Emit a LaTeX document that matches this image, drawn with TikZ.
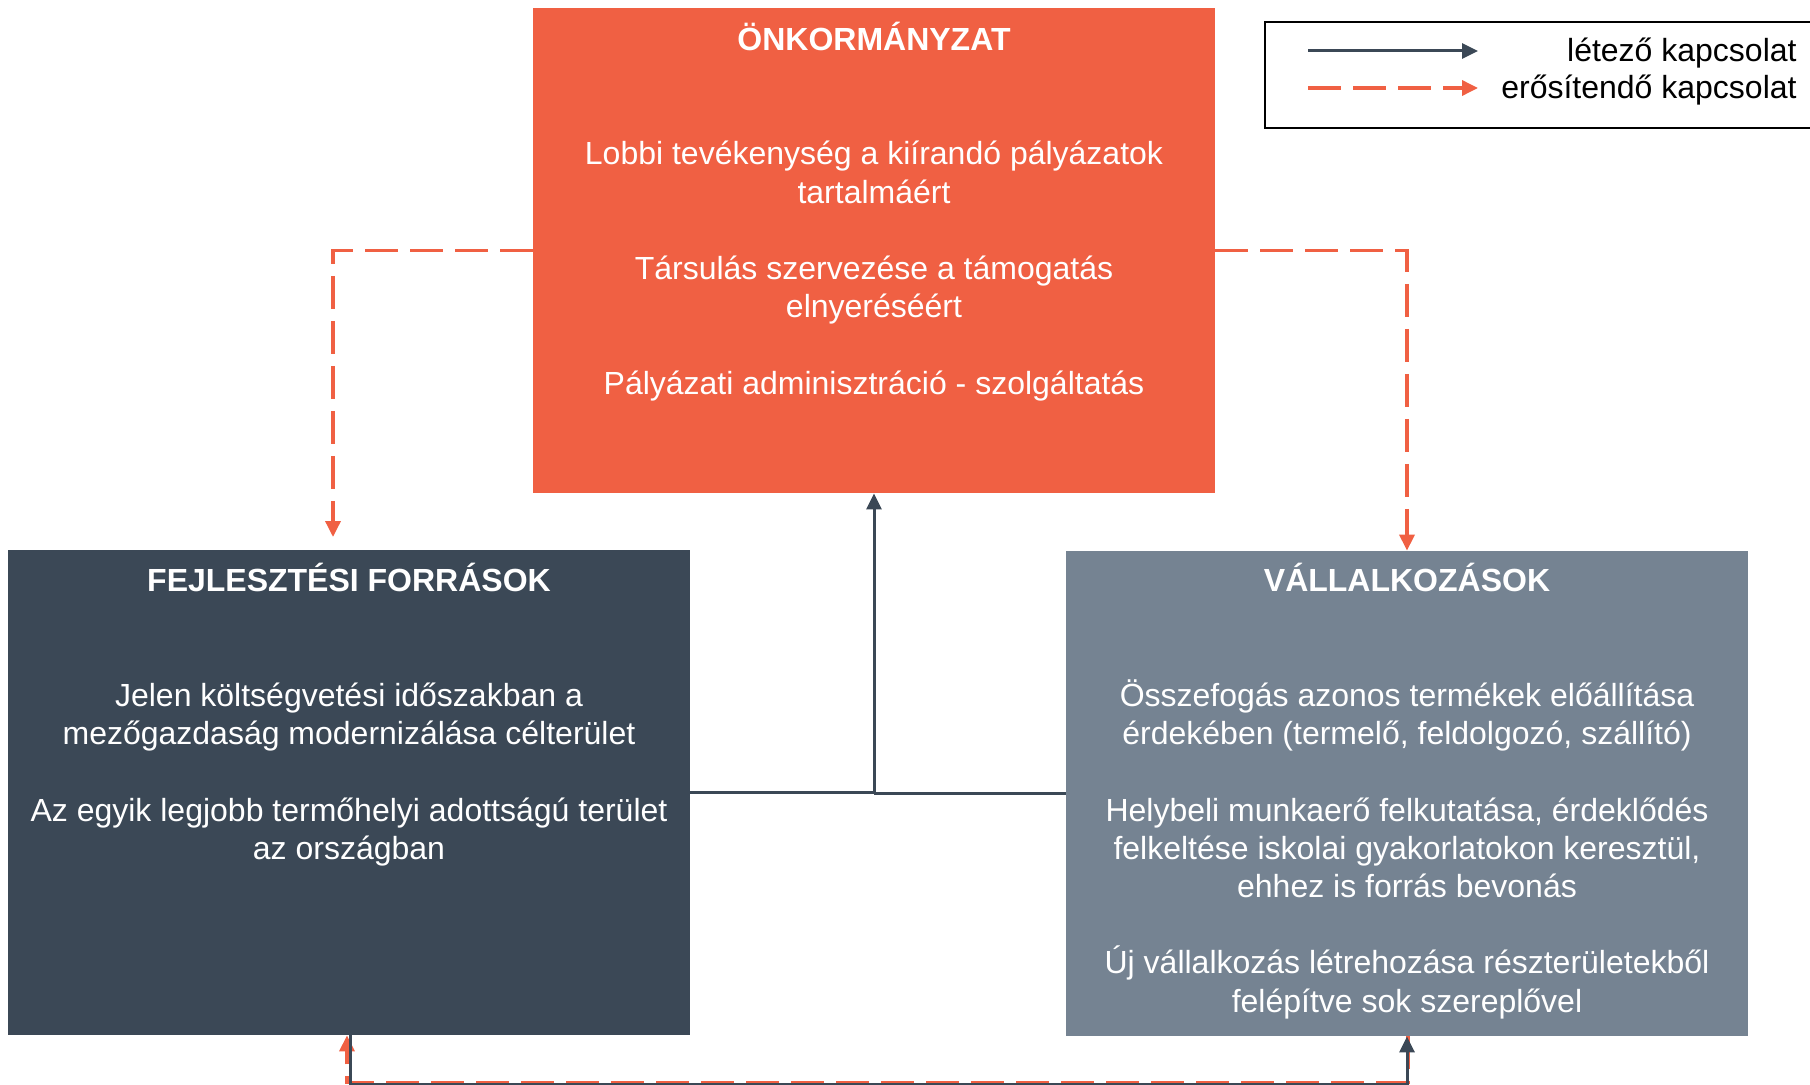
\documentclass[tikz,border=0pt]{standalone}
\usepackage{fontspec}
\setmainfont{Liberation Sans}
\usetikzlibrary{arrows.meta}
\definecolor{onkc}{RGB}{240,96,67}
\definecolor{fejc}{RGB}{59,72,86}
\definecolor{valc}{RGB}{117,131,146}
\begin{document}
\begin{tikzpicture}[x=0.5pt,y=-0.5pt,
  box/.style={minimum width=341pt,minimum height=242.5pt,inner sep=0pt,draw=none},
  txt/.style={anchor=base,text=white,font=\fontsize{16}{19}\selectfont,inner sep=0pt},
  ttl/.style={anchor=base,text=white,font=\fontsize{16}{19}\selectfont\bfseries,inner sep=0pt},
  existing/.style={draw=fejc,line width=1.5pt,-{Triangle[width=7.5pt,length=8pt]}},
  plainline/.style={draw=fejc,line width=1.5pt},
  planned/.style={draw=onkc,line width=1.75pt,dash pattern=on 16.5pt off 6pt,-{Triangle[width=7.5pt,length=8pt]}},
  legtxt/.style={anchor=base east,font=\fontsize{16}{19}\selectfont,inner sep=0pt}
]
\useasboundingbox (0,0) rectangle (1810,1085);

% boxes
\node[box,fill=onkc] (onk) at (874,250.5) {};
\node[box,fill=fejc] (fej) at (349,792.5) {};
\node[box,fill=valc] (val) at (1407,793.5) {};

% top box texts
\node[ttl] (o0) at (874,50.5) {ÖNKORMÁNYZAT};
\node[txt] (o1) at (874,165) {Lobbi tevékenység a kiírandó pályázatok};
\node[txt] (o2) at (874,203.2) {tartalmáért};
\node[txt] (o3) at (874,279.6) {Társulás szervezése a támogatás};
\node[txt] (o4) at (874,317.8) {elnyeréséért};
\node[txt] (o5) at (874,394.2) {Pályázati adminisztráció - szolgáltatás};

% left box texts
\node[ttl] (f0) at (349,591.5) {FEJLESZTÉSI FORRÁSOK};
\node[txt] (f1) at (349,706.5) {Jelen költségvetési időszakban a};
\node[txt] (f2) at (349,744.7) {mezőgazdaság modernizálása célterület};
\node[txt] (f3) at (349,821.1) {Az egyik legjobb termőhelyi adottságú terület};
\node[txt] (f4) at (349,859.3) {az országban};

% right box texts
\node[ttl] (v0) at (1407,591.5) {VÁLLALKOZÁSOK};
\node[txt] (v1) at (1407,706.5) {Összefogás azonos termékek előállítása};
\node[txt] (v2) at (1407,744.7) {érdekében (termelő, feldolgozó, szállító)};
\node[txt] (v3) at (1407,821.1) {Helybeli munkaerő felkutatása, érdeklődés};
\node[txt] (v4) at (1407,859.3) {felkeltése iskolai gyakorlatokon keresztül,};
\node[txt] (v5) at (1407,897.5) {ehhez is forrás bevonás};
\node[txt] (v6) at (1407,973.9) {Új vállalkozás létrehozása részterületekből};
\node[txt] (v7) at (1407,1012.1) {felépítve sok szereplővel};

% dashed connectors from the top box
\coordinate (fejin) at (333,537);
\draw[planned] (onk.west) -| (fejin);
\draw[planned] (onk.east) -| (val.north);

% existing connectors to the top box
\draw[existing] (fej.east) -| (onk.south);
\draw[plainline] (val.west) -- (val.west -| onk.south);

% bottom connectors
\draw[planned] ([xshift=0.5pt]val.south) -- ++(0,46) -| ([xshift=-1pt]fej.south);
\draw[existing] ([xshift=0.5pt]fej.south) -- ++(0,49) -| (val.south);

% legend
\node[draw=black,line width=1pt,inner sep=0pt,minimum width=277.5pt,minimum height=53pt] (leg) at (1542.5,75) {};
\coordinate (la1) at (1308,51);
\coordinate (lb1) at (1478,51);
\coordinate (la2) at (1308,88);
\coordinate (lb2) at (1478,88);
\draw[existing] (la1) -- (lb1);
\draw[planned] (la2) -- (lb2);
\node[legtxt] (lt1) at (1797,62) {létező kapcsolat};
\node[legtxt] (lt2) at (1797,99) {erősítendő kapcsolat};
\end{tikzpicture}
\end{document}
